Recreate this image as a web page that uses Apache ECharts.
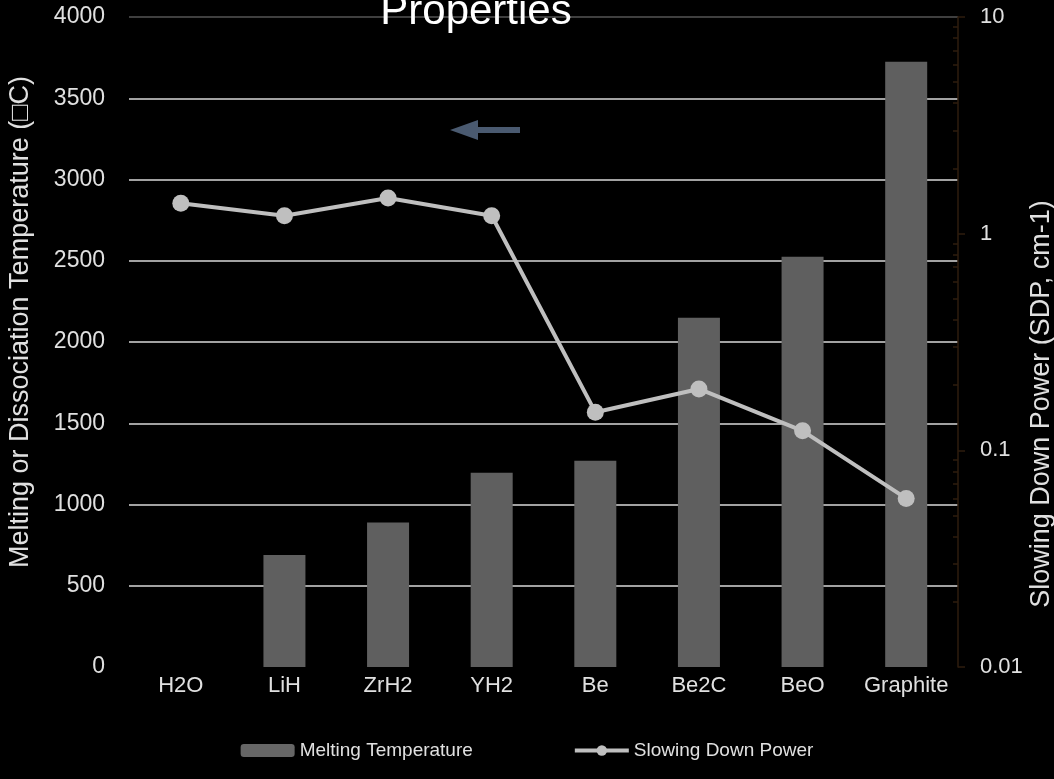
<!DOCTYPE html>
<html>
<head>
<meta charset="utf-8">
<script src="https://cdn.jsdelivr.net/npm/echarts@6/dist/echarts.min.js"></script>
<style>
html, body { margin: 0; padding: 0; background: #000; }
#chart { width: 1054px; height: 779px; }
</style>
</head>
<body>
<div id="chart"></div>
<script>
var categories = ['H2O', 'LiH', 'ZrH2', 'YH2', 'Be', 'Be2C', 'BeO', 'Graphite'];
var meltingTemp = [null, 690, 890, 1195, 1270, 2150, 2525, 3725];
var slowingDown = [1.38, 1.21, 1.46, 1.21, 0.150, 0.192, 0.123, 0.060];
var logMajor = [0.01, 0.1, 1, 10];
var logMinor = [0.02, 0.03, 0.04, 0.05, 0.06, 0.07, 0.08, 0.09,
                0.2, 0.3, 0.4, 0.5, 0.6, 0.7, 0.8, 0.9,
                2, 3, 4, 5, 6, 7, 8, 9];

var font = 'Liberation Sans, Arial, sans-serif';
var txt = '#e0e0e0';
var brown = '#2e1d0e';

var myChart = echarts.init(document.getElementById('chart'));
var option = {
    backgroundColor: '#000',
    title: {
        text: 'Properties',
        left: 471,
        textAlign: 'center',
        top: -14,
        textStyle: { color: '#fff', fontSize: 42, fontWeight: 'normal', fontFamily: font }
    },
    legend: {
        bottom: 14,
        left: 'center',
        itemGap: 100,
        itemWidth: 54,
        itemHeight: 13,
        textStyle: { color: txt, fontSize: 19, fontFamily: font },
        data: [
            { name: 'Melting Temperature', itemStyle: { color: '#666' } },
            { name: 'Slowing Down Power', lineStyle: { width: 4 } }
        ]
    },
    grid: { left: 129, right: 96, top: 17, bottom: 112, outerBoundsMode: 'none' },
    xAxis: {
        type: 'category',
        data: categories,
        axisLine: { show: false },
        axisTick: { show: false },
        axisLabel: { color: txt, fontSize: 22, fontFamily: font, margin: 8, interval: 0 }
    },
    yAxis: [{
        type: 'value',
        min: 0, max: 4000, interval: 500,
        name: 'Melting or Dissociation Temperature (\u25a1C)',
        nameLocation: 'middle',
        nameGap: 95,
        nameMoveOverlap: false,
        nameTextStyle: { color: txt, fontSize: 27, fontFamily: font, padding: [0, 0, 0, 40] },
        axisLine: { show: false },
        axisTick: { show: false },
        axisLabel: { color: txt, fontSize: 23, fontFamily: font, margin: 24,
            formatter: function (v) { return String(v); } },
        splitLine: { lineStyle: {
            color: ['rgba(0,0,0,0)', '#d9d9d9', '#d9d9d9', '#d9d9d9', '#d9d9d9',
                    '#d9d9d9', '#d9d9d9', '#d9d9d9', '#555'],
            width: 1.5 } }
    }, {
        type: 'log',
        logBase: 10,
        min: 0.01, max: 10,
        position: 'right',
        name: 'Slowing Down Power (SDP, cm-1)',
        nameLocation: 'middle',
        nameGap: 70,
        nameMoveOverlap: false,
        nameTextStyle: { color: txt, fontSize: 27, fontFamily: font, padding: [0, 124, 0, 0] },
        axisLine: { show: true, lineStyle: { color: brown, width: 1.5 } },
        axisTick: { show: true, length: 7, customValues: logMajor, lineStyle: { color: brown, width: 1.5 } },
        axisLabel: { color: txt, fontSize: 22, fontFamily: font, margin: 22, customValues: logMajor,
            formatter: function (v) { return String(v); } },
        splitLine: { show: false }
    }, {
        type: 'log',
        logBase: 10,
        min: 0.01, max: 10,
        position: 'right',
        axisLine: { show: false },
        axisTick: { show: true, length: 5, inside: true, customValues: logMinor, lineStyle: { color: brown, width: 1.5 } },
        axisLabel: { show: false },
        splitLine: { show: false }
    }],
    series: [{
        name: 'Melting Temperature',
        type: 'bar',
        yAxisIndex: 0,
        barWidth: 42,
        itemStyle: { color: '#5f5f5f' },
        data: meltingTemp
    }, {
        name: 'Slowing Down Power',
        type: 'line',
        yAxisIndex: 1,
        symbol: 'circle',
        symbolSize: 17,
        lineStyle: { color: '#bfbfbf', width: 4 },
        itemStyle: { color: '#bfbfbf' },
        data: slowingDown
    }],
    graphic: [{
        type: 'polygon',
        shape: { points: [[450, 130], [478, 120], [478, 127], [520, 127], [520, 133], [478, 133], [478, 140]] },
        style: { fill: '#4a5a70' }
    }]
};
myChart.setOption(option);
</script>
</body>
</html>
